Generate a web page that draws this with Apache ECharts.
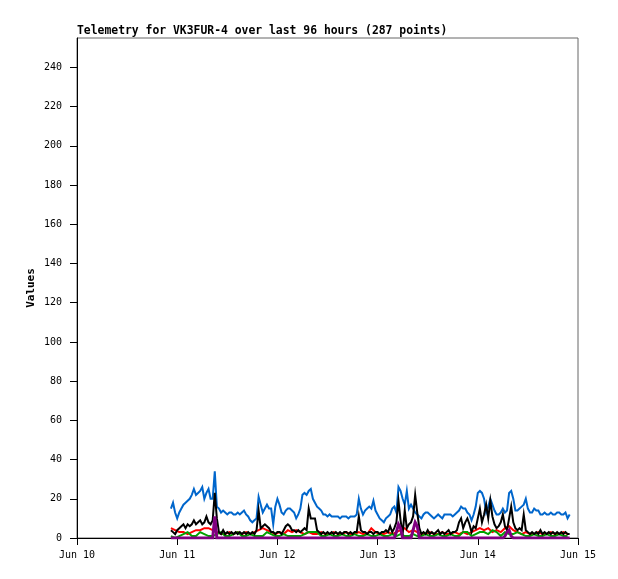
<!DOCTYPE html>
<html><head><meta charset="utf-8">
<script src="https://cdn.jsdelivr.net/npm/echarts@6/dist/echarts.min.js"></script>
<style>html,body{margin:0;padding:0;background:#fff}#c{width:618px;height:579px}</style>
</head><body><div id="c"></div>
<script>
// hours after Jun 10 00:00 of the first sample
const startHour = 22.5;
const fineStep = 0.5;   // hours between samples of blue/black/purple
const coarseStep = 1;   // hours between samples of red/green
const dayLabels = ['Jun 10','Jun 11','Jun 12','Jun 13','Jun 14','Jun 15'];
const yTicks = [0,20,40,60,80,100,120,140,160,180,200,220,240];

const blue = [
15,18,13,10,13,15,17,18,19,20,
22,25,22,23,24,26,20,23,25,20,
20,34,16,15,13,14,13,12,13,13,
12,12,13,12,13,14,12,11,9,8,
9,10,21,17,13,15,17,15,15,7,
16,20,17,13,12,14,15,15,14,13,
10,12,15,22,23,22,24,25,20,18,
16,15,14,12,12,11,12,11,11,11,
11,10,11,11,11,10,11,11,11,12,
20,15,12,14,15,16,15,19,14,12,
10,9,8,10,11,12,15,16,13,26,
24,20,17,24,15,17,15,13,12,11,
10,12,13,13,12,11,10,11,12,11,
10,12,12,12,12,11,12,13,14,16,
15,15,13,12,9,12,16,23,24,23,
20,13,16,20,17,14,12,12,13,15,
13,14,23,24,20,14,14,15,16,17,
20,15,13,13,15,14,14,12,12,13,
12,12,13,12,12,13,13,12,12,13,
10,12];

const black = [
4,3,2,4,5,6,7,5,7,6,
7,9,7,8,9,7,8,11,8,7,
9,23,10,3,2,4,2,3,2,3,
2,3,2,3,2,3,2,3,2,3,
2,4,14,5,6,7,6,5,3,3,
2,3,3,2,4,6,7,6,4,4,
3,4,3,4,5,4,15,10,10,10,
4,3,2,3,2,3,2,3,2,3,
2,3,2,3,3,2,3,2,3,3,
11,4,3,3,2,3,3,2,3,3,
2,3,3,4,3,6,3,5,8,19,
9,2,14,5,7,8,11,22,13,5,
2,3,2,4,2,3,2,3,4,2,
3,2,3,4,2,3,3,4,8,10,
5,8,10,7,3,6,5,10,15,8,
12,17,10,19,11,7,5,6,8,12,
6,4,10,16,8,5,4,5,4,12,
4,3,2,3,2,3,2,4,2,3,
2,3,2,3,2,3,2,3,2,3,
2,2];

const purple = [
0,0,0,0,0,0,0,0,0,0,
0,0,0,0,0,0,0,0,0,0,
0,11,0,0,0,0,0,0,0,0,
0,0,0,0,0,0,0,0,0,0,
0,0,0,0,0,0,0,0,0,0,
0,0,0,0,0,0,0,0,0,0,
0,0,0,0,0,0,0,0,0,0,
0,0,0,0,0,0,0,0,0,0,
0,0,0,0,0,0,0,0,0,0,
0,0,0,0,0,0,0,0,0,0,
0,0,0,0,0,0,0,0,3,7,
5,0,0,0,0,0,4,8,6,0,
0,0,0,0,0,0,0,0,0,0,
0,0,0,0,0,0,0,0,0,0,
0,0,0,0,0,0,0,0,0,0,
0,0,0,0,0,0,0,0,0,0,
1,3,4,1,0,0,0,0,0,0,
0,0,0,0,0,0,0,0,0,0,
0,0,0,0,0,0,0,0,0,0,
0,0];

const red = [
5,4,3,3,2,3,4,4,5,5,
4,3,2,2,3,2,3,2,3,2,
3,4,5,4,3,2,3,2,4,3,
4,3,2,3,2,2,3,2,2,3,
2,2,3,2,2,3,2,2,5,3,
2,2,3,2,3,4,5,3,4,3,
2,2,3,2,2,3,2,2,3,2,
3,2,3,4,5,4,5,3,4,3,
5,6,4,3,2,3,2,2,3,2,
2,3,2,2,3,2];

const green = [
1,0,1,2,3,1,1,3,2,1,
1,2,3,1,1,2,3,1,1,2,
1,1,1,3,2,1,1,2,1,1,
1,1,2,3,3,3,1,1,2,1,
1,2,1,1,2,1,1,2,1,1,
2,1,1,2,1,2,1,1,2,1,
1,2,1,1,2,1,1,2,1,1,
3,3,1,2,3,3,2,4,3,1,
3,2,2,3,2,1,1,2,1,1,
2,1,1,2,1,1];

function pairs(vals, step){ return vals.map((v,i)=>[startHour + i*step, v]); }

const FONT = 'DejaVu Sans Mono';
const chart = echarts.init(document.getElementById('c'), null, {renderer:'canvas'});
function line(name, vals, step, color, w){
  return {name, type:'line', data: pairs(vals, step), symbol:'none', showSymbol:false,
    lineStyle:{color, width:w, join:'miter'}, itemStyle:{color}, animation:false, silent:true};
}
chart.setOption({
  backgroundColor:'#ffffff',
  animation:false,
  title:{text:'Telemetry for VK3FUR-4 over last 96 hours (287 points)', left:77, top:26, padding:0,
    textStyle:{fontFamily:FONT, fontWeight:'bold', fontSize:11.4, color:'#000'}},
  grid:{left:77, right:40, top:38, bottom:41, show:true, borderColor:'#666', borderWidth:1, containLabel:false},
  xAxis:{type:'value', min:0, max:120, interval:24,
    axisLine:{show:true, lineStyle:{color:'#000', width:1}},
    axisTick:{show:true, inside:false, length:7, lineStyle:{color:'#000'}},
    axisLabel:{margin:12, fontFamily:FONT, fontSize:10, color:'#000', formatter:v=>dayLabels[Math.round(v/24)]},
    splitLine:{show:false}},
  yAxis:{type:'value', min:0, max:255, interval:20, name:'Values', nameLocation:'middle', nameGap:40,
    nameMoveOverlap:false,
    nameTextStyle:{fontFamily:FONT, fontWeight:'bold', fontSize:11, color:'#000'},
    axisLine:{show:true, lineStyle:{color:'#000', width:1}},
    axisTick:{show:true, inside:false, length:7, lineStyle:{color:'#000'}, customValues:yTicks},
    axisLabel:{margin:15, fontFamily:FONT, fontSize:10, color:'#000', customValues:yTicks},
    splitLine:{show:false}},
  series:[
    line('blue', blue, fineStep, '#0066cc', 2),
    line('red', red, coarseStep, '#ff0000', 2),
    line('green', green, coarseStep, '#00a000', 2),
    line('black', black, fineStep, '#000000', 2),
    line('purple', purple, fineStep, '#800080', 3)
  ]
});
</script>
</body></html>
